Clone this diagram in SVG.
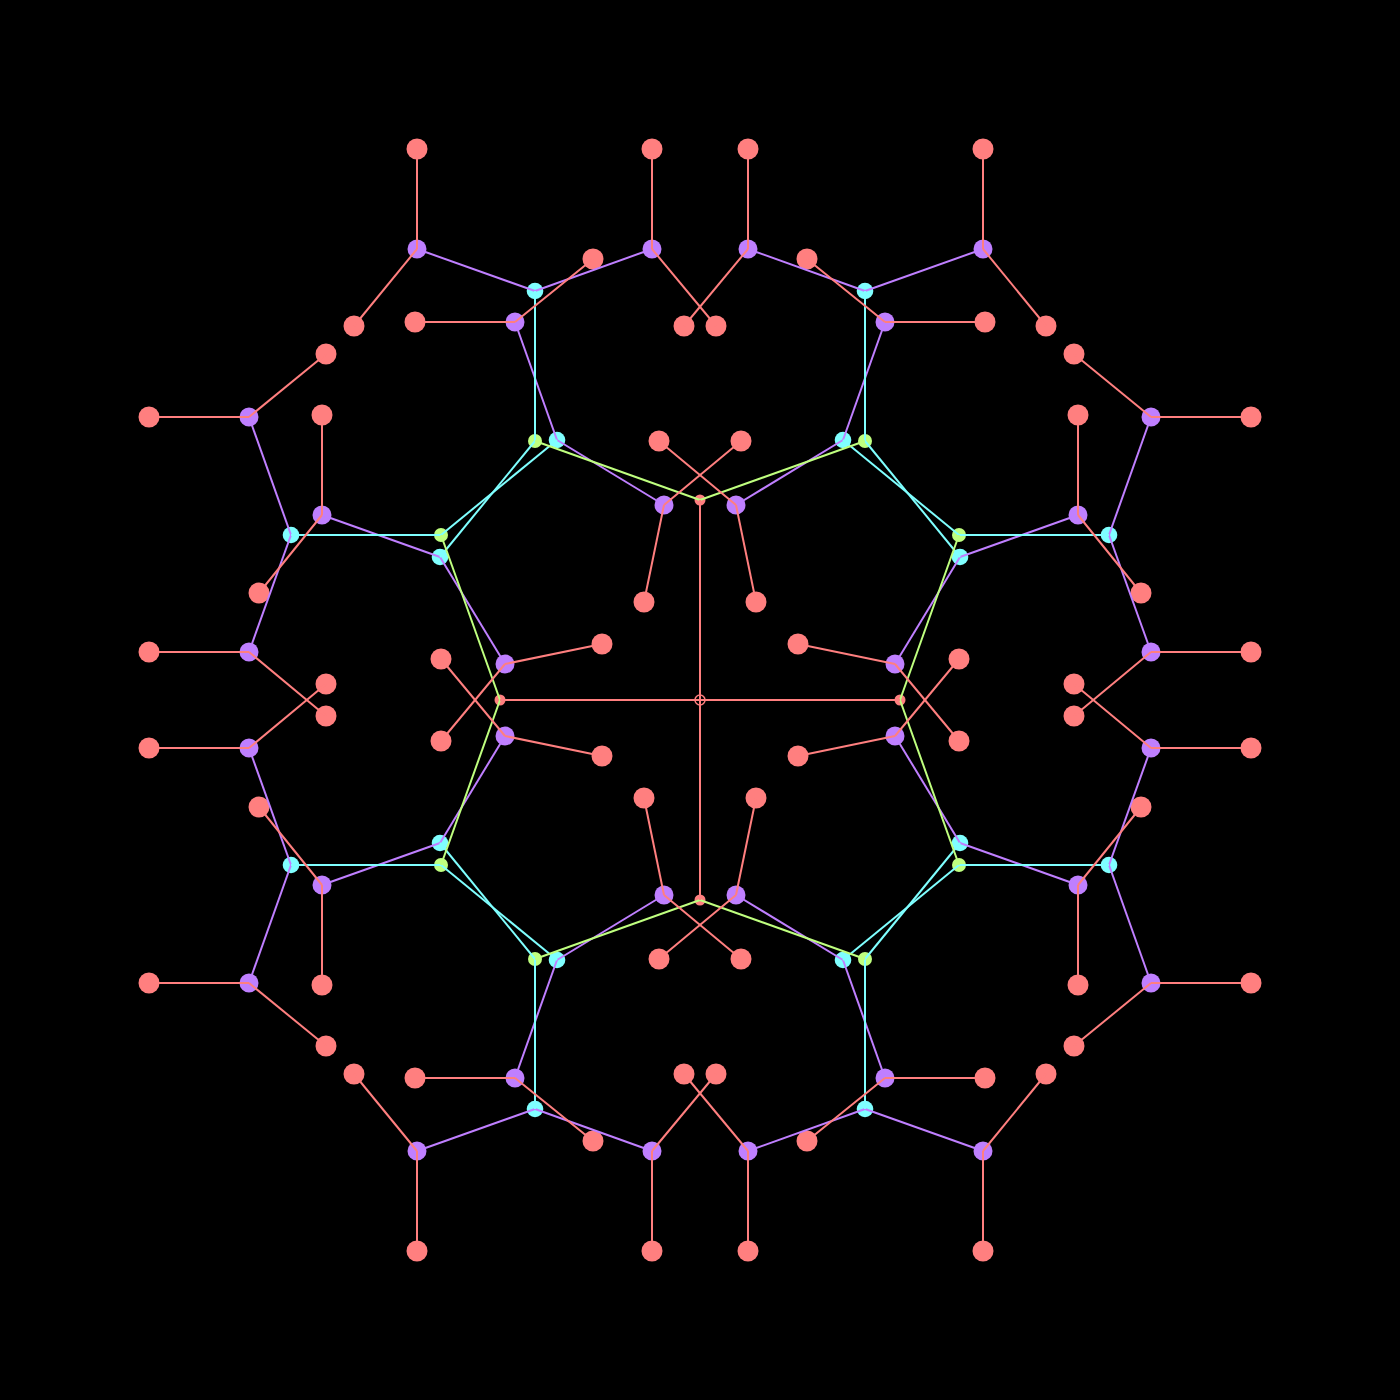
<svg xmlns="http://www.w3.org/2000/svg" width="1400" height="1400" viewBox="0 0 1400 1400">
<style>
.bg{fill:#000}
.r{fill:#ff7f7f}
.p{fill:#bf7fff}
.c{fill:#7fffff}
.g{fill:#bfff7f}
.s{fill:#ff7f7f}
.ring{fill:none;stroke:#ff7f7f;stroke-width:1.5}
.er{stroke:#ff7f7f;stroke-width:2;fill:none}
.ep{stroke:#bf7fff;stroke-width:2;fill:none}
.ec{stroke:#7fffff;stroke-width:2;fill:none}
.eg{stroke:#bfff7f;stroke-width:2;fill:none}
</style>
<rect class="bg" x="0" y="0" width="1400" height="1400"/>
<g id="nodes">
<g id="center"><circle class="ring" cx="700" cy="700" r="5"/></g>
<g id="s1"><circle class="s" cx="700" cy="500" r="5.5"/></g>
<g id="s2"><circle class="s" cx="500" cy="700" r="5.5"/></g>
<g id="s3"><circle class="s" cx="900" cy="700" r="5.5"/></g>
<g id="s4"><circle class="s" cx="700" cy="900" r="5.5"/></g>
<g id="g1"><circle class="g" cx="535" cy="441" r="7"/></g>
<g id="g2"><circle class="g" cx="441" cy="535" r="7"/></g>
<g id="g3"><circle class="g" cx="865" cy="441" r="7"/></g>
<g id="g4"><circle class="g" cx="959" cy="535" r="7"/></g>
<g id="g5"><circle class="g" cx="535" cy="959" r="7"/></g>
<g id="g6"><circle class="g" cx="441" cy="865" r="7"/></g>
<g id="g7"><circle class="g" cx="865" cy="959" r="7"/></g>
<g id="g8"><circle class="g" cx="959" cy="865" r="7"/></g>
<g id="c1"><circle class="c" cx="535" cy="291" r="8.3"/></g>
<g id="c2"><circle class="c" cx="557" cy="440" r="8.3"/></g>
<g id="c3"><circle class="c" cx="291" cy="535" r="8.3"/></g>
<g id="c4"><circle class="c" cx="440" cy="557" r="8.3"/></g>
<g id="c5"><circle class="c" cx="865" cy="291" r="8.3"/></g>
<g id="c6"><circle class="c" cx="843" cy="440" r="8.3"/></g>
<g id="c7"><circle class="c" cx="1109" cy="535" r="8.3"/></g>
<g id="c8"><circle class="c" cx="960" cy="557" r="8.3"/></g>
<g id="c9"><circle class="c" cx="535" cy="1109" r="8.3"/></g>
<g id="c10"><circle class="c" cx="557" cy="960" r="8.3"/></g>
<g id="c11"><circle class="c" cx="291" cy="865" r="8.3"/></g>
<g id="c12"><circle class="c" cx="440" cy="843" r="8.3"/></g>
<g id="c13"><circle class="c" cx="865" cy="1109" r="8.3"/></g>
<g id="c14"><circle class="c" cx="843" cy="960" r="8.3"/></g>
<g id="c15"><circle class="c" cx="1109" cy="865" r="8.3"/></g>
<g id="c16"><circle class="c" cx="960" cy="843" r="8.3"/></g>
<g id="p1"><circle class="p" cx="417" cy="249" r="9.5"/></g>
<g id="p2"><circle class="p" cx="652" cy="249" r="9.5"/></g>
<g id="p3"><circle class="p" cx="515" cy="322" r="9.5"/></g>
<g id="p4"><circle class="p" cx="664" cy="505" r="9.5"/></g>
<g id="p5"><circle class="p" cx="249" cy="417" r="9.5"/></g>
<g id="p6"><circle class="p" cx="249" cy="652" r="9.5"/></g>
<g id="p7"><circle class="p" cx="322" cy="515" r="9.5"/></g>
<g id="p8"><circle class="p" cx="505" cy="664" r="9.5"/></g>
<g id="p9"><circle class="p" cx="983" cy="249" r="9.5"/></g>
<g id="p10"><circle class="p" cx="748" cy="249" r="9.5"/></g>
<g id="p11"><circle class="p" cx="885" cy="322" r="9.5"/></g>
<g id="p12"><circle class="p" cx="736" cy="505" r="9.5"/></g>
<g id="p13"><circle class="p" cx="1151" cy="417" r="9.5"/></g>
<g id="p14"><circle class="p" cx="1151" cy="652" r="9.5"/></g>
<g id="p15"><circle class="p" cx="1078" cy="515" r="9.5"/></g>
<g id="p16"><circle class="p" cx="895" cy="664" r="9.5"/></g>
<g id="p17"><circle class="p" cx="417" cy="1151" r="9.5"/></g>
<g id="p18"><circle class="p" cx="652" cy="1151" r="9.5"/></g>
<g id="p19"><circle class="p" cx="515" cy="1078" r="9.5"/></g>
<g id="p20"><circle class="p" cx="664" cy="895" r="9.5"/></g>
<g id="p21"><circle class="p" cx="249" cy="983" r="9.5"/></g>
<g id="p22"><circle class="p" cx="249" cy="748" r="9.5"/></g>
<g id="p23"><circle class="p" cx="322" cy="885" r="9.5"/></g>
<g id="p24"><circle class="p" cx="505" cy="736" r="9.5"/></g>
<g id="p25"><circle class="p" cx="983" cy="1151" r="9.5"/></g>
<g id="p26"><circle class="p" cx="748" cy="1151" r="9.5"/></g>
<g id="p27"><circle class="p" cx="885" cy="1078" r="9.5"/></g>
<g id="p28"><circle class="p" cx="736" cy="895" r="9.5"/></g>
<g id="p29"><circle class="p" cx="1151" cy="983" r="9.5"/></g>
<g id="p30"><circle class="p" cx="1151" cy="748" r="9.5"/></g>
<g id="p31"><circle class="p" cx="1078" cy="885" r="9.5"/></g>
<g id="p32"><circle class="p" cx="895" cy="736" r="9.5"/></g>
<g id="r1"><circle class="r" cx="417" cy="149" r="10.5"/></g>
<g id="r2"><circle class="r" cx="354" cy="326" r="10.5"/></g>
<g id="r3"><circle class="r" cx="652" cy="149" r="10.5"/></g>
<g id="r4"><circle class="r" cx="716" cy="326" r="10.5"/></g>
<g id="r5"><circle class="r" cx="415" cy="322" r="10.5"/></g>
<g id="r6"><circle class="r" cx="593" cy="259" r="10.5"/></g>
<g id="r7"><circle class="r" cx="741" cy="441" r="10.5"/></g>
<g id="r8"><circle class="r" cx="644" cy="602" r="10.5"/></g>
<g id="r9"><circle class="r" cx="149" cy="417" r="10.5"/></g>
<g id="r10"><circle class="r" cx="326" cy="354" r="10.5"/></g>
<g id="r11"><circle class="r" cx="149" cy="652" r="10.5"/></g>
<g id="r12"><circle class="r" cx="326" cy="716" r="10.5"/></g>
<g id="r13"><circle class="r" cx="322" cy="415" r="10.5"/></g>
<g id="r14"><circle class="r" cx="259" cy="593" r="10.5"/></g>
<g id="r15"><circle class="r" cx="441" cy="741" r="10.5"/></g>
<g id="r16"><circle class="r" cx="602" cy="644" r="10.5"/></g>
<g id="r17"><circle class="r" cx="983" cy="149" r="10.5"/></g>
<g id="r18"><circle class="r" cx="1046" cy="326" r="10.5"/></g>
<g id="r19"><circle class="r" cx="748" cy="149" r="10.5"/></g>
<g id="r20"><circle class="r" cx="684" cy="326" r="10.5"/></g>
<g id="r21"><circle class="r" cx="985" cy="322" r="10.5"/></g>
<g id="r22"><circle class="r" cx="807" cy="259" r="10.5"/></g>
<g id="r23"><circle class="r" cx="659" cy="441" r="10.5"/></g>
<g id="r24"><circle class="r" cx="756" cy="602" r="10.5"/></g>
<g id="r25"><circle class="r" cx="1251" cy="417" r="10.5"/></g>
<g id="r26"><circle class="r" cx="1074" cy="354" r="10.5"/></g>
<g id="r27"><circle class="r" cx="1251" cy="652" r="10.5"/></g>
<g id="r28"><circle class="r" cx="1074" cy="716" r="10.5"/></g>
<g id="r29"><circle class="r" cx="1078" cy="415" r="10.5"/></g>
<g id="r30"><circle class="r" cx="1141" cy="593" r="10.5"/></g>
<g id="r31"><circle class="r" cx="959" cy="741" r="10.5"/></g>
<g id="r32"><circle class="r" cx="798" cy="644" r="10.5"/></g>
<g id="r33"><circle class="r" cx="417" cy="1251" r="10.5"/></g>
<g id="r34"><circle class="r" cx="354" cy="1074" r="10.5"/></g>
<g id="r35"><circle class="r" cx="652" cy="1251" r="10.5"/></g>
<g id="r36"><circle class="r" cx="716" cy="1074" r="10.5"/></g>
<g id="r37"><circle class="r" cx="415" cy="1078" r="10.5"/></g>
<g id="r38"><circle class="r" cx="593" cy="1141" r="10.5"/></g>
<g id="r39"><circle class="r" cx="741" cy="959" r="10.5"/></g>
<g id="r40"><circle class="r" cx="644" cy="798" r="10.5"/></g>
<g id="r41"><circle class="r" cx="149" cy="983" r="10.5"/></g>
<g id="r42"><circle class="r" cx="326" cy="1046" r="10.5"/></g>
<g id="r43"><circle class="r" cx="149" cy="748" r="10.5"/></g>
<g id="r44"><circle class="r" cx="326" cy="684" r="10.5"/></g>
<g id="r45"><circle class="r" cx="322" cy="985" r="10.5"/></g>
<g id="r46"><circle class="r" cx="259" cy="807" r="10.5"/></g>
<g id="r47"><circle class="r" cx="441" cy="659" r="10.5"/></g>
<g id="r48"><circle class="r" cx="602" cy="756" r="10.5"/></g>
<g id="r49"><circle class="r" cx="983" cy="1251" r="10.5"/></g>
<g id="r50"><circle class="r" cx="1046" cy="1074" r="10.5"/></g>
<g id="r51"><circle class="r" cx="748" cy="1251" r="10.5"/></g>
<g id="r52"><circle class="r" cx="684" cy="1074" r="10.5"/></g>
<g id="r53"><circle class="r" cx="985" cy="1078" r="10.5"/></g>
<g id="r54"><circle class="r" cx="807" cy="1141" r="10.5"/></g>
<g id="r55"><circle class="r" cx="659" cy="959" r="10.5"/></g>
<g id="r56"><circle class="r" cx="756" cy="798" r="10.5"/></g>
<g id="r57"><circle class="r" cx="1251" cy="983" r="10.5"/></g>
<g id="r58"><circle class="r" cx="1074" cy="1046" r="10.5"/></g>
<g id="r59"><circle class="r" cx="1251" cy="748" r="10.5"/></g>
<g id="r60"><circle class="r" cx="1074" cy="684" r="10.5"/></g>
<g id="r61"><circle class="r" cx="1078" cy="985" r="10.5"/></g>
<g id="r62"><circle class="r" cx="1141" cy="807" r="10.5"/></g>
<g id="r63"><circle class="r" cx="959" cy="659" r="10.5"/></g>
<g id="r64"><circle class="r" cx="798" cy="756" r="10.5"/></g>
</g>
<g id="connectors">
<g class="ep">
<line x1="417" y1="249" x2="535" y2="291"/><line x1="535" y1="291" x2="652" y2="249"/><line x1="515" y1="322" x2="557" y2="440"/><line x1="557" y1="440" x2="664" y2="505"/>
<line x1="249" y1="417" x2="291" y2="535"/><line x1="291" y1="535" x2="249" y2="652"/><line x1="322" y1="515" x2="440" y2="557"/><line x1="440" y1="557" x2="505" y2="664"/>
<line x1="983" y1="249" x2="865" y2="291"/><line x1="865" y1="291" x2="748" y2="249"/><line x1="885" y1="322" x2="843" y2="440"/><line x1="843" y1="440" x2="736" y2="505"/>
<line x1="1151" y1="417" x2="1109" y2="535"/><line x1="1109" y1="535" x2="1151" y2="652"/><line x1="1078" y1="515" x2="960" y2="557"/><line x1="960" y1="557" x2="895" y2="664"/>
<line x1="417" y1="1151" x2="535" y2="1109"/><line x1="535" y1="1109" x2="652" y2="1151"/><line x1="515" y1="1078" x2="557" y2="960"/><line x1="557" y1="960" x2="664" y2="895"/>
<line x1="249" y1="983" x2="291" y2="865"/><line x1="291" y1="865" x2="249" y2="748"/><line x1="322" y1="885" x2="440" y2="843"/><line x1="440" y1="843" x2="505" y2="736"/>
<line x1="983" y1="1151" x2="865" y2="1109"/><line x1="865" y1="1109" x2="748" y2="1151"/><line x1="885" y1="1078" x2="843" y2="960"/><line x1="843" y1="960" x2="736" y2="895"/>
<line x1="1151" y1="983" x2="1109" y2="865"/><line x1="1109" y1="865" x2="1151" y2="748"/><line x1="1078" y1="885" x2="960" y2="843"/><line x1="960" y1="843" x2="895" y2="736"/>
</g>
<g class="ec">
<line x1="535" y1="291" x2="535" y2="441"/><line x1="535" y1="441" x2="440" y2="557"/><line x1="291" y1="535" x2="441" y2="535"/><line x1="441" y1="535" x2="557" y2="440"/>
<line x1="865" y1="291" x2="865" y2="441"/><line x1="865" y1="441" x2="960" y2="557"/><line x1="1109" y1="535" x2="959" y2="535"/><line x1="959" y1="535" x2="843" y2="440"/>
<line x1="535" y1="1109" x2="535" y2="959"/><line x1="535" y1="959" x2="440" y2="843"/><line x1="291" y1="865" x2="441" y2="865"/><line x1="441" y1="865" x2="557" y2="960"/>
<line x1="865" y1="1109" x2="865" y2="959"/><line x1="865" y1="959" x2="960" y2="843"/><line x1="1109" y1="865" x2="959" y2="865"/><line x1="959" y1="865" x2="843" y2="960"/>
</g>
<g class="eg">
<line x1="535" y1="441" x2="700" y2="500"/><line x1="441" y1="535" x2="500" y2="700"/>
<line x1="865" y1="441" x2="700" y2="500"/><line x1="959" y1="535" x2="900" y2="700"/>
<line x1="535" y1="959" x2="700" y2="900"/><line x1="441" y1="865" x2="500" y2="700"/>
<line x1="865" y1="959" x2="700" y2="900"/><line x1="959" y1="865" x2="900" y2="700"/>
</g>
<g class="er">
<line x1="700" y1="500" x2="700" y2="700"/><line x1="500" y1="700" x2="700" y2="700"/><line x1="900" y1="700" x2="700" y2="700"/><line x1="700" y1="900" x2="700" y2="700"/>
<line x1="417" y1="249" x2="417" y2="149"/><line x1="417" y1="249" x2="354" y2="326"/><line x1="652" y1="249" x2="652" y2="149"/><line x1="652" y1="249" x2="716" y2="326"/>
<line x1="515" y1="322" x2="415" y2="322"/><line x1="515" y1="322" x2="593" y2="259"/><line x1="664" y1="505" x2="741" y2="441"/><line x1="664" y1="505" x2="644" y2="602"/>
<line x1="249" y1="417" x2="149" y2="417"/><line x1="249" y1="417" x2="326" y2="354"/><line x1="249" y1="652" x2="149" y2="652"/><line x1="249" y1="652" x2="326" y2="716"/>
<line x1="322" y1="515" x2="322" y2="415"/><line x1="322" y1="515" x2="259" y2="593"/><line x1="505" y1="664" x2="441" y2="741"/><line x1="505" y1="664" x2="602" y2="644"/>
<line x1="983" y1="249" x2="983" y2="149"/><line x1="983" y1="249" x2="1046" y2="326"/><line x1="748" y1="249" x2="748" y2="149"/><line x1="748" y1="249" x2="684" y2="326"/>
<line x1="885" y1="322" x2="985" y2="322"/><line x1="885" y1="322" x2="807" y2="259"/><line x1="736" y1="505" x2="659" y2="441"/><line x1="736" y1="505" x2="756" y2="602"/>
<line x1="1151" y1="417" x2="1251" y2="417"/><line x1="1151" y1="417" x2="1074" y2="354"/><line x1="1151" y1="652" x2="1251" y2="652"/><line x1="1151" y1="652" x2="1074" y2="716"/>
<line x1="1078" y1="515" x2="1078" y2="415"/><line x1="1078" y1="515" x2="1141" y2="593"/><line x1="895" y1="664" x2="959" y2="741"/><line x1="895" y1="664" x2="798" y2="644"/>
<line x1="417" y1="1151" x2="417" y2="1251"/><line x1="417" y1="1151" x2="354" y2="1074"/><line x1="652" y1="1151" x2="652" y2="1251"/><line x1="652" y1="1151" x2="716" y2="1074"/>
<line x1="515" y1="1078" x2="415" y2="1078"/><line x1="515" y1="1078" x2="593" y2="1141"/><line x1="664" y1="895" x2="741" y2="959"/><line x1="664" y1="895" x2="644" y2="798"/>
<line x1="249" y1="983" x2="149" y2="983"/><line x1="249" y1="983" x2="326" y2="1046"/><line x1="249" y1="748" x2="149" y2="748"/><line x1="249" y1="748" x2="326" y2="684"/>
<line x1="322" y1="885" x2="322" y2="985"/><line x1="322" y1="885" x2="259" y2="807"/><line x1="505" y1="736" x2="441" y2="659"/><line x1="505" y1="736" x2="602" y2="756"/>
<line x1="983" y1="1151" x2="983" y2="1251"/><line x1="983" y1="1151" x2="1046" y2="1074"/><line x1="748" y1="1151" x2="748" y2="1251"/><line x1="748" y1="1151" x2="684" y2="1074"/>
<line x1="885" y1="1078" x2="985" y2="1078"/><line x1="885" y1="1078" x2="807" y2="1141"/><line x1="736" y1="895" x2="659" y2="959"/><line x1="736" y1="895" x2="756" y2="798"/>
<line x1="1151" y1="983" x2="1251" y2="983"/><line x1="1151" y1="983" x2="1074" y2="1046"/><line x1="1151" y1="748" x2="1251" y2="748"/><line x1="1151" y1="748" x2="1074" y2="684"/>
<line x1="1078" y1="885" x2="1078" y2="985"/><line x1="1078" y1="885" x2="1141" y2="807"/><line x1="895" y1="736" x2="959" y2="659"/><line x1="895" y1="736" x2="798" y2="756"/>
</g>
</g>
</svg>
